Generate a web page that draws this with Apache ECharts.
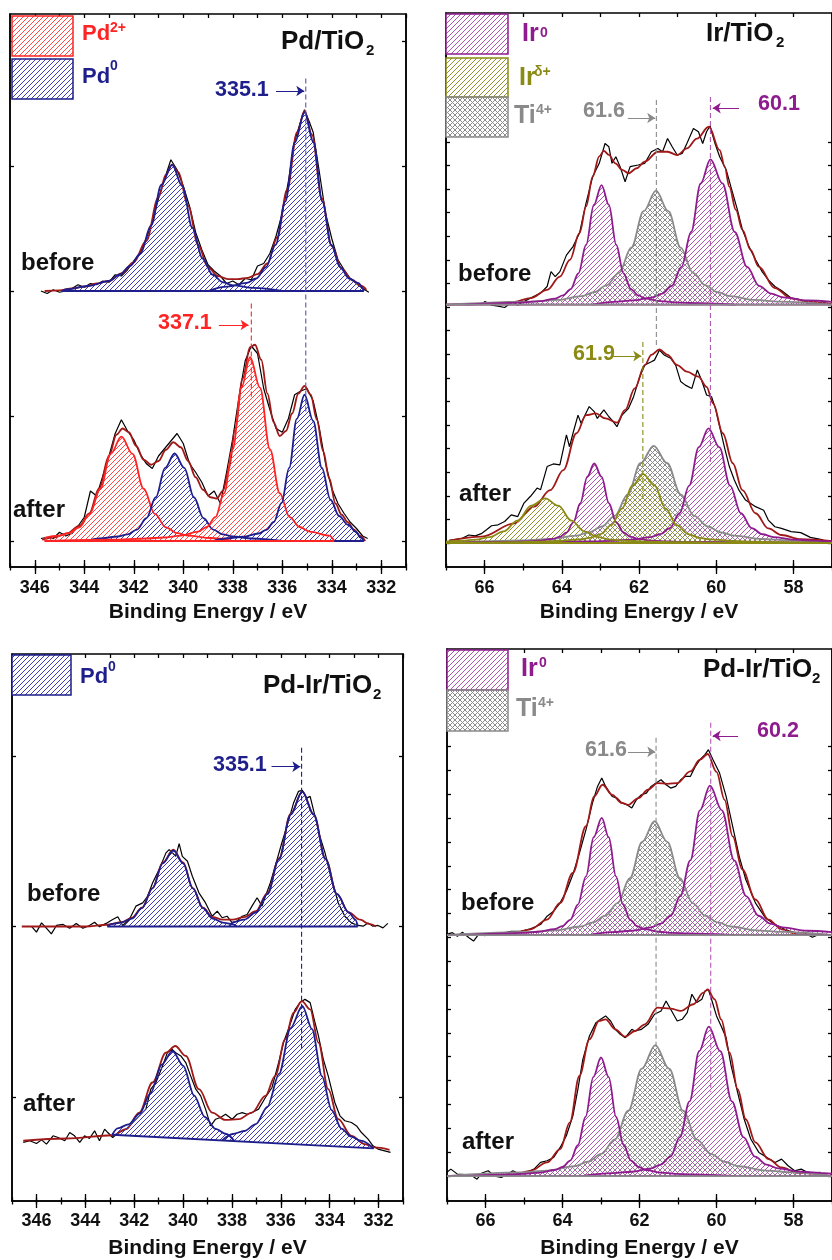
<!DOCTYPE html>
<html><head><meta charset="utf-8">
<script src="https://cdn.jsdelivr.net/npm/echarts@6/dist/echarts.min.js"></script>
<style>html,body{margin:0;padding:0;background:#fff}#c{width:832px;height:1260px}</style>
</head><body><div id="c"></div>
<script>
// ---------------- tick labels ----------------
const pdTickLabels = [332,334,336,338,340,342,344,346];
const irTickLabels = [58,60,62,64,66];
const pdTiYTicks = [0,1,2,3,4];
const irTiYTicks = [0,1,2,3,4,5,6,7,8,9,10,11,12,13,14,15,16,17];
const pdIrYTicks = [0,1,2];
const piYTicks = [0,1,2,3,4,5,6,7,8,9,10,11,12,13,14,15,16,17,18];

// ---------------- Panel 1: Pd/TiO2, Pd 3d ----------------
const pdTiBeforeBase = 2.0;
const pdTiBeforeRaw = [[345.75,2.00],[345.5,1.98],[345.25,2.01],[345.0,1.99],[344.75,2.00],[344.5,2.02],[344.25,2.05],[344.0,2.03],[343.75,2.06],[343.5,2.05],[343.25,2.08],[343.0,2.07],[342.75,2.13],[342.5,2.12],[342.25,2.17],[342.0,2.24],[341.75,2.30],[341.5,2.42],[341.25,2.55],[341.0,2.74],[340.75,2.90],[340.5,3.05],[340.25,2.97],[340.0,2.84],[339.75,2.68],[339.5,2.47],[339.25,2.33],[339.0,2.21],[338.75,2.16],[338.5,2.12],[338.25,2.06],[338.0,2.08],[337.75,2.05],[337.5,2.10],[337.25,2.09],[337.0,2.20],[336.75,2.22],[336.5,2.30],[336.25,2.44],[336.0,2.62],[335.75,2.88],[335.5,3.20],[335.25,3.36],[335.1,3.45],[334.9,3.35],[334.75,3.27],[334.5,2.95],[334.25,2.62],[334.0,2.42],[333.75,2.25],[333.5,2.17],[333.25,2.10],[333.0,2.06],[332.75,2.02],[332.5,1.99]];
const pdTiBeforeFit = [[345.6,2.0],[345.0,2.005],[344.5,2.02],[344.0,2.035],[343.5,2.06],[343.0,2.08],[342.5,2.14],[342.0,2.23],[341.5,2.40],[341.0,2.75],[340.7,2.93],[340.45,3.01],[340.2,2.95],[339.8,2.68],[339.4,2.37],[339.0,2.19],[338.6,2.12],[338.2,2.095],[337.8,2.095],[337.4,2.105],[337.0,2.135],[336.6,2.22],[336.2,2.43],[335.8,2.81],[335.4,3.27],[335.1,3.44],[334.8,3.25],[334.4,2.74],[334.0,2.36],[333.6,2.18],[333.2,2.09],[332.8,2.04],[332.6,2.01]];
const pdTiBeforePd0_32 = [[344.9,2.0],[344.7,2.015],[343.85,2.04],[343.0,2.08],[342.58,2.13],[342.15,2.20],[341.73,2.30],[341.3,2.525],[340.88,2.85],[340.45,3.01],[340.04,2.84],[339.63,2.505],[339.22,2.26],[338.81,2.13],[338.4,2.07],[337.99,2.045],[337.17,2.025],[336.0,2.0]];
const pdTiBeforePd0_52 = [[339.0,2.0],[338.22,2.035],[337.44,2.065],[337.05,2.10],[336.66,2.19],[336.27,2.37],[335.88,2.715],[335.49,3.19],[335.1,3.43],[334.74,3.19],[334.38,2.715],[334.02,2.37],[333.66,2.19],[333.30,2.10],[332.94,2.065],[332.7,2.0]];
const pdTiBeforeBaseLine = [[344.9,2.0],[332.7,2.0]];

const pdTiAfterBase = 0;
const pdTiAfterRaw = [[345.75,.02],[345.5,.03],[345.25,.02],[345.0,.07],[344.75,.04],[344.5,.06],[344.25,.12],[344.0,.19],[343.75,.40],[343.5,.36],[343.25,.52],[343.0,.68],[342.75,.86],[342.5,.97],[342.25,.88],[342.0,.81],[341.75,.70],[341.5,.62],[341.25,.58],[341.0,.68],[340.75,.74],[340.5,.80],[340.25,.86],[340.0,.78],[339.75,.62],[339.5,.55],[339.25,.47],[339.0,.36],[338.75,.40],[338.5,.30],[338.25,.55],[338.0,.82],[337.75,1.15],[337.5,1.44],[337.25,1.56],[337.0,1.50],[336.75,1.22],[336.5,1.05],[336.25,.90],[336.0,.87],[335.75,.98],[335.5,1.17],[335.25,1.20],[335.0,1.22],[334.75,1.12],[334.5,.90],[334.25,.62],[334.0,.42],[333.75,.30],[333.5,.22],[333.25,.15],[333.0,.10],[332.75,.04],[332.55,.02]];
const pdTiAfterFit = [[345.7,.01],[345.2,.03],[344.7,.06],[344.2,.12],[343.8,.22],[343.4,.42],[343.0,.68],[342.7,.85],[342.45,.90],[342.2,.87],[341.9,.76],[341.6,.65],[341.3,.61],[341.0,.64],[340.7,.73],[340.4,.79],[340.1,.75],[339.8,.64],[339.5,.51],[339.2,.41],[338.9,.35],[338.65,.34],[338.4,.40],[338.15,.58],[337.9,.90],[337.6,1.30],[337.3,1.55],[337.1,1.57],[336.85,1.45],[336.6,1.18],[336.35,.95],[336.1,.84],[335.85,.88],[335.6,1.02],[335.35,1.18],[335.1,1.24],[334.85,1.17],[334.6,.97],[334.35,.72],[334.1,.50],[333.85,.30],[333.6,.21],[333.35,.15],[333.1,.09],[332.85,.04],[332.65,0]];
const pdTiAfterPd2_32 = [[345.6,.025],[345.05,.043],[344.63,.063],[344.2,.109],[343.78,.217],[343.35,.418],[342.93,.697],[342.5,.835],[342.05,.697],[341.6,.418],[341.15,.217],[340.7,.109],[340.25,.063],[339.8,.043],[338.9,.024],[338.0,0]];
const pdTiAfterPd2_52 = [[345.6,0],[342.9,.011],[341.5,.02],[340.8,.028],[340.1,.043],[339.4,.075],[339.05,.112],[338.7,.191],[338.35,.382],[338.0,.735],[337.65,1.227],[337.3,1.47],[336.9,1.227],[336.5,.735],[336.1,.382],[335.7,.191],[335.3,.112],[334.9,.075],[334.1,.043],[333.9,0]];
const pdTiAfterPd0_32 = [[343.9,0],[343.39,.020],[342.63,.036],[342.25,.053],[341.87,.091],[341.49,.182],[341.11,.35],[340.73,.585],[340.35,.70],[339.96,.585],[339.57,.35],[339.18,.182],[338.79,.091],[338.4,.053],[338.01,.036],[337.23,.020],[336.0,0]];
const pdTiAfterPd0_52 = [[338.8,0],[338.2,.022],[337.58,.034],[336.96,.060],[336.65,.089],[336.34,.152],[336.03,.304],[335.72,.585],[335.41,.977],[335.1,1.17],[334.75,.96],[334.4,.585],[334.05,.33],[333.7,.2],[333.35,.13],[333.0,.07],[332.85,.03],[332.7,0]];
const pdTiAfterRedBase = [[345.6,0],[333.9,0]];
const pdTiAfterBlueBase = [[343.9,0],[332.7,0]];
const pdTiPd0Guide = [[335.05,3.70],[335.05,1.02]];
const pdTiPd2Guide = [[337.25,1.90],[337.25,1.15]];
const pdTiPd0Arrow = [[336.25,3.6],[335.11,3.6]];
const pdTiPd2Arrow = [[338.56,1.728],[337.36,1.728]];

// ---------------- Panel 2: Ir/TiO2, Ir 4f ----------------
const irTiBeforeBase = 10.1;
const irTiBeforeRaw = [[66.11,10.08],[65.99,10.23],[65.82,10.08],[65.65,10.04],[65.48,9.98],[65.27,10.23],[65.15,10.08],[64.98,10.23],[64.81,10.38],[64.55,10.59],[64.38,10.87],[64.28,11.5],[64.17,11.29],[64.05,11.5],[63.88,12.2],[63.71,12.56],[63.54,13.14],[63.37,14.41],[63.2,15.53],[63.03,16.09],[62.88,16.93],[62.78,16.79],[62.7,16.09],[62.6,16.37],[62.49,15.95],[62.36,15.31],[62.23,15.95],[62.02,16.02],[61.85,16.09],[61.68,16.58],[61.51,16.72],[61.39,16.58],[61.26,17.14],[61.14,16.79],[61.01,16.44],[60.88,16.51],[60.76,16.93],[60.59,17.57],[60.46,17.43],[60.35,16.93],[60.25,17.43],[60.16,17.67],[60.03,16.93],[59.91,16.37],[59.74,15.81],[59.62,15.1],[59.45,14.12],[59.32,13.27],[59.15,12.56],[58.98,12.0],[58.81,11.5],[58.65,11.15],[58.48,10.87],[58.31,10.7],[58.06,10.38],[57.81,10.3],[57.64,10.16],[57.38,10.16],[57.23,10.23]];
const irTiBeforeFit = [[67.0,10.1],[66.07,10.12],[65.23,10.22],[64.81,10.38],[64.38,10.73],[64.05,11.29],[63.79,12.0],[63.54,13.14],[63.37,14.27],[63.2,15.53],[63.03,16.38],[62.91,16.62],[62.78,16.45],[62.61,16.09],[62.44,15.81],[62.27,15.67],[62.06,15.88],[61.85,16.16],[61.51,16.58],[61.26,16.58],[61.01,16.44],[60.76,16.72],[60.5,17.14],[60.19,17.64],[59.91,16.65],[59.78,15.95],[59.66,15.1],[59.49,14.12],[59.32,13.27],[59.11,12.42],[58.9,11.71],[58.48,10.8],[58.06,10.37],[57.64,10.24],[57.0,10.13]];
const irTiBeforeIr0_72 = [[63.2,10.1],[62.65,10.22],[62.15,10.28],[61.65,10.41],[61.4,10.57],[61.15,10.9],[60.9,11.7],[60.65,13.18],[60.4,15.24],[60.15,16.26],[59.84,15.24],[59.52,13.18],[59.2,11.7],[58.89,10.9],[58.58,10.57],[58.26,10.41],[57.63,10.28],[57.0,10.22]];
const irTiBeforeIr0_52 = [[66.5,10.1],[65.37,10.17],[64.97,10.2],[64.57,10.25],[64.17,10.36],[63.97,10.49],[63.77,10.76],[63.57,11.42],[63.37,12.64],[63.17,14.33],[62.97,15.17],[62.78,14.33],[62.59,12.64],[62.4,11.42],[62.21,10.76],[62.02,10.49],[61.83,10.36],[61.45,10.25],[61.07,10.2],[60.69,10.17],[59.5,10.1]];
const irTiBeforeTi = [[67.0,10.1],[64.76,10.23],[64.12,10.3],[63.48,10.46],[63.16,10.63],[62.84,10.92],[62.52,11.45],[62.2,12.52],[61.88,14.06],[61.56,14.93],[61.24,14.06],[60.92,12.52],[60.6,11.45],[60.28,10.92],[59.96,10.63],[59.64,10.46],[59.0,10.3],[58.36,10.23],[57.0,10.1]];
const irTiBeforeBaseLine = [[67.0,10.1],[57.0,10.1]];

const irTiAfterBase = 0;
const irTiAfterRaw = [[66.92,.10],[66.58,.20],[66.41,.34],[66.24,.30],[66.07,.41],[65.95,.56],[65.82,.73],[65.65,.77],[65.48,.91],[65.31,1.19],[65.14,1.12],[64.98,1.69],[64.81,1.98],[64.64,2.33],[64.55,2.26],[64.38,3.24],[64.22,3.35],[64.05,3.31],[63.88,4.58],[63.8,4.08],[63.71,4.65],[63.58,5.42],[63.5,5.07],[63.29,5.78],[63.16,5.57],[63.08,5.28],[62.91,5.64],[62.78,5.35],[62.7,5.21],[62.57,4.93],[62.44,5.42],[62.27,5.71],[62.14,6.2],[61.98,7.05],[61.85,7.54],[61.68,7.68],[61.6,7.75],[61.47,8.18],[61.35,7.97],[61.18,7.83],[61.05,7.54],[60.92,6.84],[60.8,6.69],[60.63,6.55],[60.49,7.33],[60.38,6.91],[60.25,6.27],[60.12,6.2],[60.01,5.64],[59.91,4.93],[59.78,4.01],[59.66,3.24],[59.53,2.67],[59.41,2.24],[59.24,1.82],[58.98,1.54],[58.77,1.39],[58.65,.97],[58.48,.69],[58.31,.62],[58.06,.48],[57.81,.44],[57.56,.24],[57.23,.13]];
const irTiAfterFit = [[66.92,.10],[66.07,.27],[65.23,.83],[64.72,1.54],[64.3,2.24],[63.96,3.09],[63.62,4.65],[63.37,5.42],[63.12,5.49],[62.87,5.28],[62.57,5.1],[62.36,5.64],[62.11,6.55],[61.85,7.54],[61.68,7.97],[61.47,8.2],[61.26,7.97],[61.01,7.54],[60.76,7.26],[60.46,7.05],[60.25,6.62],[60.08,5.92],[59.83,4.65],[59.57,3.38],[59.32,2.24],[58.98,1.26],[58.65,.62],[58.31,.34],[57.81,.16],[57.0,.08]];
const irTiAfterIrd_52 = [[67.0,.06],[66.59,.096],[66.23,.14],[65.87,.25],[65.51,.49],[65.15,.945],[64.79,1.58],[64.43,1.89],[64.09,1.58],[63.75,.945],[63.41,.49],[63.07,.25],[62.73,.14],[62.39,.096],[61.71,.055],[61.03,.036],[60.35,.026],[57.0,0]];
const irTiAfterIrd_72 = [[67.0,0],[65.19,.039],[64.64,.055],[64.09,.085],[63.54,.15],[63.27,.22],[62.99,.38],[62.72,.76],[62.44,1.46],[62.17,2.44],[61.89,2.92],[61.6,2.44],[61.31,1.46],[61.02,.76],[60.73,.38],[60.44,.22],[60.15,.15],[59.57,.085],[58.99,.055],[58.41,.039],[57.0,0]];
const irTiAfterIr0_52 = [[67.0,0],[65.32,.045],[64.96,.064],[64.6,.098],[64.24,.172],[64.06,.256],[63.88,.438],[63.7,.876],[63.52,1.685],[63.34,2.81],[63.16,3.37],[62.97,2.81],[62.78,1.685],[62.59,.876],[62.4,.438],[62.21,.256],[62.02,.172],[61.64,.098],[61.26,.064],[60.88,.045],[57.0,0]];
const irTiAfterTi = [[67.0,0],[64.97,.11],[64.3,.17],[63.63,.31],[63.3,.45],[62.96,.70],[62.63,1.15],[62.29,2.06],[61.96,3.38],[61.62,4.12],[61.27,3.38],[60.92,2.06],[60.57,1.15],[60.22,.70],[59.87,.45],[59.52,.31],[58.82,.17],[58.12,.11],[57.0,0]];
const irTiAfterIr0_72 = [[67.0,0],[63.2,.066],[62.7,.092],[62.2,.14],[61.7,.25],[61.45,.37],[61.2,.63],[60.95,1.26],[60.7,2.43],[60.45,4.06],[60.2,4.86],[59.92,4.06],[59.64,2.43],[59.36,1.26],[59.08,.63],[58.8,.37],[58.52,.25],[57.96,.14],[57.4,.092],[57.0,.07]];
const irTiAfterBaseLine = [[67.0,0],[57.0,0]];
const irTiTiGuide = [[61.55,18.77],[61.55,8.26]];
const irTiIr0Guide = [[60.15,18.9],[60.15,3.3]];
const irTiIrdGuide = [[61.9,8.52],[61.9,1.74]];
const irTiTiArrow = [[62.29,18.01],[61.58,18.01]];
const irTiIr0Arrow = [[59.41,18.43],[60.09,18.43]];
const irTiIrdArrow = [[62.7,7.92],[61.94,7.92]];

// ---------------- Panel 3: Pd-Ir/TiO2, Pd 3d ----------------
const pdIrBeforeBase = 1.0;
const pdIrBeforeRaw = [[346.2,1.0],[346.0,.967],[345.79,1.021],[345.52,.979],[345.39,.957],[345.18,1.006],[344.91,1.012],[344.64,.99],[344.37,1.018],[344.1,.99],[343.83,1.006],[343.62,1.025],[343.42,.998],[343.15,1.018],[342.88,1.041],[342.67,1.057],[342.47,1.006],[342.2,1.041],[341.93,1.119],[341.65,1.138],[341.45,1.177],[341.25,1.255],[340.98,1.333],[340.7,1.431],[340.57,1.45],[340.43,1.431],[340.3,1.411],[340.16,1.485],[340.03,1.411],[339.82,1.382],[339.62,1.294],[339.35,1.197],[339.08,1.138],[338.81,1.06],[338.6,1.09],[338.4,1.051],[338.2,1.06],[337.99,1.021],[337.79,1.031],[337.58,1.06],[337.38,1.07],[337.18,1.119],[336.97,1.168],[336.77,1.119],[336.63,1.177],[336.43,1.255],[336.23,1.353],[335.96,1.489],[335.69,1.616],[335.48,1.723],[335.28,1.791],[335.12,1.797],[334.94,1.752],[334.8,1.762],[334.6,1.645],[334.4,1.528],[334.19,1.431],[333.92,1.275],[333.65,1.138],[333.38,1.06],[333.11,1.021],[332.84,1.006],[332.63,1.002],[332.43,1.021],[332.23,1.002],[332.02,1.006],[331.82,.992],[331.62,1.018]];
const pdIrBeforeFit = [[346.6,1.0],[344.0,1.0],[343.1,1.01],[342.5,1.025],[342.1,1.05],[341.68,1.11],[341.25,1.225],[340.83,1.375],[340.4,1.45],[340.0,1.375],[339.6,1.225],[339.19,1.11],[338.78,1.055],[338.38,1.04],[337.97,1.04],[337.5,1.055],[337.02,1.09],[336.55,1.195],[336.07,1.40],[335.6,1.66],[335.12,1.79],[334.65,1.655],[334.17,1.395],[333.7,1.19],[333.22,1.082],[332.75,1.04],[332.4,1.015],[332.1,1.0]];
const pdIrBeforePd0_32 = [[343.1,1.0],[342.95,1.014],[342.53,1.023],[342.1,1.046],[341.68,1.107],[341.25,1.223],[340.83,1.37],[340.4,1.446],[340.0,1.37],[339.6,1.223],[339.19,1.107],[338.78,1.046],[338.38,1.023],[337.97,1.014],[337.8,1.0]];
const pdIrBeforePd0_52 = [[338.1,1.0],[337.97,1.024],[337.5,1.04],[337.02,1.082],[336.55,1.189],[336.07,1.395],[335.6,1.655],[335.12,1.79],[334.65,1.655],[334.17,1.395],[333.7,1.189],[333.22,1.082],[332.95,1.04],[332.85,1.0]];
const pdIrBeforeBaseLine = [[343.1,1.0],[332.85,1.0]];

const pdIrAfterRaw = [[346.54,-.265],[346.27,-.255],[346.0,-.271],[345.79,-.25],[345.59,-.275],[345.32,-.226],[345.11,-.236],[344.84,-.255],[344.64,-.207],[344.44,-.226],[344.23,-.265],[344.03,-.226],[343.83,-.242],[343.62,-.197],[343.42,-.255],[343.21,-.187],[343.08,-.207],[342.88,-.236],[342.6,-.203],[342.33,-.187],[342.06,-.148],[341.79,-.109],[341.52,-.07],[341.32,.047],[341.11,.086],[340.84,.183],[340.64,.261],[340.46,.281],[340.3,.261],[340.09,.242],[339.89,.203],[339.69,.125],[339.48,.047],[339.28,.008],[339.08,-.07],[338.87,-.168],[338.67,-.129],[338.47,-.119],[338.26,-.1],[337.99,-.129],[337.79,-.1],[337.58,-.09],[337.38,-.1],[337.18,-.09],[336.91,-.07],[336.63,-.002],[336.36,.057],[336.09,.203],[335.89,.32],[335.69,.398],[335.41,.515],[335.21,.554],[335.01,.573],[334.8,.554],[334.6,.437],[334.46,.359],[334.26,.222],[334.06,.125],[333.79,-.031],[333.58,-.109],[333.38,-.138],[333.11,-.148],[332.9,-.168],[332.7,-.207],[332.43,-.246],[332.23,-.285],[332.02,-.304],[331.75,-.314],[331.51,-.323]];
const pdIrAfterFit = [[346.54,-.255],[344.78,-.242],[342.88,-.223],[342.33,-.187],[341.79,-.09],[341.25,.086],[340.7,.261],[340.32,.30],[339.89,.242],[339.35,.047],[338.81,-.09],[338.27,-.133],[337.72,-.129],[337.18,-.09],[336.63,.008],[336.23,.125],[335.82,.339],[335.48,.495],[335.14,.563],[334.8,.515],[334.46,.32],[334.06,.047],[333.65,-.129],[333.11,-.226],[332.57,-.275],[332.16,-.294],[331.55,-.308]];
// sloped background under each component, and each component's height above it
const pdIrAfterBg32 = [[342.9,-.22],[342.68,-.2215],[342.23,-.2248],[341.78,-.2282],[341.33,-.2316],[340.88,-.2349],[340.43,-.2383],[339.99,-.2416],[339.55,-.2448],[339.11,-.2481],[338.67,-.2514],[338.23,-.2547],[337.9,-.2572]];
const pdIrAfterPd0_32 = [[342.9,0],[342.68,.039],[342.23,.066],[341.78,.132],[341.33,.255],[340.88,.425],[340.43,.509],[339.99,.425],[339.55,.255],[339.11,.132],[338.67,.066],[338.23,.039],[337.9,0]];
const pdIrAfterBg52 = [[338.4,-.2534],[337.97,-.2566],[337.5,-.2601],[337.02,-.2637],[336.55,-.2672],[336.07,-.2708],[335.6,-.2743],[335.12,-.2779],[334.72,-.2809],[334.32,-.2839],[333.92,-.2868],[333.52,-.2898],[333.12,-.2928],[332.72,-.2958],[332.2,-.2997]];
const pdIrAfterPd0_52 = [[338.4,0],[337.97,.041],[337.5,.062],[337.02,.106],[336.55,.211],[336.07,.407],[335.6,.679],[335.12,.813],[334.72,.679],[334.32,.407],[333.92,.211],[333.52,.106],[333.12,.062],[332.72,.041],[332.2,0]];
const pdIrAfterBgLine = [[342.9,-.22],[332.2,-.2997]];
const pdIrPd0Guide = [[335.15,2.047],[335.15,0.281]];
const pdIrPd0Arrow = [[336.38,1.936],[335.2,1.936]];

// ---------------- Panel 4: Pd-Ir/TiO2, Ir 4f ----------------
const piBeforeBase = 10.1;
const piBeforeRaw = [[67.01,10.13],[66.86,10.2],[66.73,10.05],[66.6,10.22],[66.43,9.99],[66.31,9.85],[66.18,10.13],[66.01,10.08],[65.84,10.2],[65.59,10.17],[65.33,10.26],[65.08,10.26],[64.83,10.36],[64.57,10.54],[64.4,10.89],[64.23,11.1],[64.06,11.45],[63.9,11.94],[63.73,12.64],[63.56,13.54],[63.39,14.52],[63.22,15.64],[63.09,16.33],[62.98,16.68],[62.88,16.33],[62.71,15.91],[62.58,15.84],[62.46,15.64],[62.33,15.56],[62.2,15.43],[62.08,15.77],[61.95,15.98],[61.82,16.05],[61.7,16.33],[61.57,16.47],[61.44,16.61],[61.31,16.4],[61.19,16.26],[61.06,16.33],[60.93,16.61],[60.81,16.75],[60.68,16.75],[60.55,17.17],[60.43,17.45],[60.3,17.66],[60.21,17.87],[60.09,17.45],[59.92,16.89],[59.75,15.91],[59.58,14.66],[59.41,13.4],[59.24,12.43],[58.99,11.45],[58.73,10.82],[58.48,10.54],[58.23,10.34],[57.97,10.2],[57.72,10.2],[57.51,10.01],[57.34,10.13],[57.23,10.08]];
const piBeforeFit = [[67.0,10.1],[65.93,10.1],[65.25,10.2],[64.83,10.34],[64.4,10.75],[64.06,11.45],[63.73,12.71],[63.39,14.66],[63.18,15.91],[62.96,16.4],[62.71,15.98],[62.46,15.64],[62.29,15.56],[62.03,15.84],[61.78,16.19],[61.53,16.47],[61.27,16.44],[61.02,16.47],[60.68,16.96],[60.43,17.45],[60.23,17.69],[60.0,16.94],[59.79,15.77],[59.58,14.24],[59.33,12.85],[58.99,11.59],[58.65,10.75],[58.31,10.34],[57.89,10.13],[57.0,10.1]];
const piBeforeIr0_72 = [[63.3,10.1],[62.72,10.22],[62.21,10.28],[61.7,10.42],[61.45,10.58],[61.19,10.91],[60.94,11.73],[60.68,13.23],[60.43,15.33],[60.17,16.36],[59.86,15.33],[59.54,13.23],[59.23,11.73],[58.91,10.91],[58.6,10.58],[58.28,10.42],[57.65,10.28],[57.0,10.22]];
const piBeforeIr0_52 = [[66.5,10.1],[65.44,10.17],[65.03,10.19],[64.62,10.24],[64.21,10.35],[64.01,10.47],[63.8,10.74],[63.6,11.38],[63.39,12.56],[63.19,14.2],[62.98,15.01],[62.8,14.2],[62.61,12.56],[62.43,11.38],[62.24,10.74],[62.06,10.47],[61.87,10.35],[61.5,10.24],[61.13,10.19],[60.76,10.17],[59.5,10.1]];
const piBeforeTi = [[67.0,10.1],[64.81,10.23],[64.17,10.3],[63.53,10.46],[63.21,10.63],[62.89,10.91],[62.57,11.44],[62.25,12.49],[61.93,14.01],[61.61,14.87],[61.28,14.01],[60.95,12.49],[60.62,11.44],[60.29,10.91],[59.96,10.63],[59.63,10.46],[58.97,10.3],[58.31,10.23],[57.0,10.1]];
const piBeforeBaseLine = [[67.0,10.1],[57.0,10.1]];

const piAfterBase = 0;
const piAfterRaw = [[67.01,.15],[66.9,.29],[66.73,.08],[66.52,.06],[66.35,.01],[66.22,-.13],[66.09,.13],[65.93,.22],[65.76,-.01],[65.59,-.06],[65.42,.08],[65.29,.22],[65.12,.08],[64.91,.18],[64.74,.29],[64.57,.57],[64.4,.64],[64.23,.78],[64.06,1.2],[63.9,1.69],[63.73,2.52],[63.6,3.64],[63.47,4.9],[63.3,5.87],[63.13,6.43],[63.01,6.57],[62.88,6.71],[62.75,6.5],[62.63,6.15],[62.5,5.94],[62.37,5.8],[62.2,6.15],[62.12,6.08],[61.95,6.15],[61.78,6.36],[61.61,6.78],[61.44,6.92],[61.31,7.34],[61.19,6.99],[61.02,6.5],[60.89,6.57],[60.76,6.85],[60.64,7.62],[60.51,7.27],[60.38,7.41],[60.3,7.75],[60.21,7.82],[60.13,7.41],[60.0,6.71],[59.88,6.29],[59.75,5.8],[59.62,4.62],[59.45,3.5],[59.28,2.38],[59.11,1.55],[58.9,.99],[58.69,.78],[58.48,.57],[58.31,.71],[58.14,.43],[57.97,.22],[57.8,.29],[57.63,.15],[57.47,.13],[57.3,.15]];
const piAfterFit = [[67.0,0.0],[66.0,.02],[65.25,.06],[64.83,.22],[64.4,.57],[64.06,1.13],[63.81,2.25],[63.56,4.2],[63.3,5.73],[63.05,6.5],[62.88,6.57],[62.63,6.15],[62.37,5.84],[62.12,6.08],[61.86,6.36],[61.53,7.06],[61.19,7.02],[60.93,6.92],[60.6,7.2],[60.34,7.69],[60.23,7.82],[60.05,7.41],[59.88,6.57],[59.66,5.17],[59.45,3.64],[59.24,2.38],[58.99,1.41],[58.65,.71],[58.31,.36],[57.89,.13],[57.0,0]];
const piAfterIr0_72 = [[63.5,0],[62.7,.12],[62.2,.18],[61.7,.32],[61.45,.48],[61.2,.81],[60.95,1.63],[60.7,3.13],[60.45,5.23],[60.2,6.26],[59.9,5.23],[59.6,3.13],[59.3,1.63],[59.0,.81],[58.7,.48],[58.4,.32],[57.8,.18],[57.2,.12],[57.0,.1]];
const piAfterIr0_52 = [[66.5,0],[65.4,.067],[65.0,.094],[64.6,.144],[64.2,.253],[64.0,.378],[63.8,.646],[63.6,1.29],[63.4,2.485],[63.2,4.15],[63.0,4.97],[62.8,4.15],[62.61,2.485],[62.41,1.29],[62.22,.646],[62.02,.378],[61.83,.253],[61.44,.144],[61.05,.094],[60.66,.067],[59.5,0]];
const piAfterTi = [[67.0,0],[65.09,.15],[64.39,.23],[63.69,.41],[63.34,.6],[62.99,.93],[62.64,1.54],[62.29,2.745],[61.94,4.5],[61.59,5.49],[61.23,4.5],[60.87,2.745],[60.51,1.54],[60.15,.93],[59.79,.6],[59.43,.41],[58.71,.23],[57.99,.15],[57.0,0]];
const piAfterBaseLine = [[67.0,0],[57.0,0]];
const piTiGuide = [[61.57,18.37],[61.57,4.48]];
const piIr0Guide = [[60.15,19.0],[60.15,3.51]];
const piTiArrow = [[62.3,17.78],[61.59,17.78]];
const piIr0Arrow = [[59.44,18.45],[60.1,18.45]];

// ---------------- styling ----------------
const FONT = '"Liberation Sans", Arial, Helvetica, sans-serif';
const C = {navy:'#1e1e8c', red:'#ff2424', purple:'#8e1c8e', olive:'#8a8a14', gray:'#8a8a8a', env:'#a01818', black:'#111'};

function hatch(color, s, cross) {
  const c = document.createElement('canvas');
  c.width = s; c.height = s;
  const g = c.getContext('2d');
  g.fillStyle = color;
  for (let k = 0; k < s; k++) {
    g.fillRect(s - 1 - k, k, 1, 1);
    if (cross) g.fillRect(k, k, 1, 1);
  }
  return {image: c, repeat: 'repeat'};
}
const P = {
  pd0: hatch('rgb(60,60,180)', 5, false),
  pd2: hatch('rgb(255,70,70)', 5, false),
  ir0: hatch('rgb(175,85,175)', 5, false),
  ird: hatch('rgb(145,145,45)', 5, false),
  ti: hatch('rgb(140,140,140)', 5, true)
};

const panels = [
  {left:10, top:14, width:396, height:553, xmin:331, xmax:347, ymin:-0.208, ymax:4.216, xl:pdTickLabels, yt:pdTiYTicks, lm:12, ng:35},
  {left:446, top:13, width:395, height:554, xmin:57, xmax:67, ymin:-1.017, ymax:22.46, xl:irTickLabels, yt:irTiYTicks, lm:12, ng:35},
  {left:12, top:654, width:391, height:548, xmin:331, xmax:347, ymin:-0.608, ymax:2.596, xl:pdTickLabels, yt:pdIrYTicks, lm:11, ng:37},
  {left:447, top:649, width:394, height:553, xmin:57, xmax:67, ymin:-1.046, ymax:22.09, xl:irTickLabels, yt:piYTicks, lm:11, ng:37}
];

const grids = [], xAxes = [], yAxes = [];
const tickStyle = {color:'#000', width:1.3};
panels.forEach((p, i) => {
  grids.push({left:p.left, top:p.top, width:p.width, height:p.height, show:true, borderColor:'#000', borderWidth:1.5, backgroundColor:'transparent'});
  const base = {type:'value', gridIndex:i, min:p.xmin, max:p.xmax, inverse:true, splitLine:{show:false}};
  xAxes.push(Object.assign({}, base, {position:'bottom', interval:1,
    axisLine:{show:true, onZero:false, lineStyle:{color:'#000', width:1.5}},
    axisTick:{show:true, inside:false, length:3.5, lineStyle:tickStyle},
    axisLabel:{show:true, customValues:p.xl, margin:p.lm, fontSize:18, fontWeight:'bold', fontFamily:FONT, color:C.black},
    name:'Binding Energy / eV', nameLocation:'middle', nameGap:p.ng,
    nameTextStyle:{fontSize:21, fontWeight:'bold', fontFamily:FONT, color:C.black}}));
  xAxes.push(Object.assign({}, base, {position:'bottom', interval:1,
    axisLine:{show:false, onZero:false}, axisLabel:{show:false},
    axisTick:{show:true, inside:true, length:3.5, lineStyle:tickStyle}}));
  xAxes.push(Object.assign({}, base, {position:'bottom', interval:1,
    axisLine:{show:false, onZero:false}, axisLabel:{show:false},
    axisTick:{show:true, inside:false, length:7, customValues:p.xl, lineStyle:tickStyle}}));
  xAxes.push(Object.assign({}, base, {position:'bottom', interval:1,
    axisLine:{show:false, onZero:false}, axisLabel:{show:false},
    axisTick:{show:true, inside:true, length:7, customValues:p.xl, lineStyle:tickStyle}}));
  xAxes.push(Object.assign({}, base, {position:'top', interval:1,
    axisLine:{show:false, onZero:false}, axisLabel:{show:false},
    axisTick:{show:true, inside:true, length:4, lineStyle:tickStyle}}));
  ['left','right'].forEach(pos => {
    yAxes.push({type:'value', gridIndex:i, position:pos, min:p.ymin, max:p.ymax,
      axisLine:{show:true, onZero:false, lineStyle:{color:'#000', width:1.5}},
      axisTick:{show:true, inside:true, length:4, customValues:p.yt, lineStyle:tickStyle},
      axisLabel:{show:false}, splitLine:{show:false}});
  });
});

const series = [];
function ax(i) { return {xAxisIndex:i * 5, yAxisIndex:i * 2}; }
function raw(i, data) {
  series.push(Object.assign({type:'line', data, symbol:'none', smooth:false, z:2, silent:true,
    lineStyle:{color:'#000', width:1.2}}, ax(i)));
}
function fit(i, data) {
  series.push(Object.assign({type:'line', data, symbol:'none', smooth:0.35, smoothMonotone:'x', z:3, silent:true,
    lineStyle:{color:C.env, width:1.8}}, ax(i)));
}
function comp(i, data, color, pat, origin, z) {
  series.push(Object.assign({type:'line', data, symbol:'none', smooth:0.35, smoothMonotone:'x', z:z || 4, silent:true,
    lineStyle:{color, width:1.8}, areaStyle:{color:pat, origin, opacity:1}}, ax(i)));
}
function flat(i, data, color, z) {
  series.push(Object.assign({type:'line', data, symbol:'none', z:z || 4, silent:true,
    lineStyle:{color, width:1.8}}, ax(i)));
}
function guide(i, data, color) {
  series.push(Object.assign({type:'line', data, symbol:'none', z:6, silent:true,
    lineStyle:{color, width:1.1, type:[5,3]}}, ax(i)));
}
function arrow(i, data, color) {
  series.push(Object.assign({type:'lines', coordinateSystem:'cartesian2d', silent:true, z:7,
    symbol:['none','arrow'], symbolSize:[1,8],
    lineStyle:{color, width:1.2, opacity:1, curveness:0},
    data:[{coords:data}]}, ax(i)));
}
// component sitting on a sloped background: fill between curve and background
function slopedComp(i, bg, h, color, pat) {
  const top = bg.map((p, k) => [p[0], p[1] + h[k][1]]);
  series.push(Object.assign({type:'custom', silent:true, z:4, clip:true, data:[bg[0]],
    renderItem: (params, api) => {
      const pts = top.map(p => api.coord(p)).concat(bg.slice().reverse().map(p => api.coord(p)));
      return {type:'polygon', shape:{points:pts}, style:{fill:pat, stroke:null}};
    }}, ax(i)));
  series.push(Object.assign({type:'line', data:top, symbol:'none', smooth:0.3, smoothMonotone:'x', z:5, silent:true,
    lineStyle:{color, width:1.8}}, ax(i)));
}

// Panel 1
raw(0, pdTiBeforeRaw); fit(0, pdTiBeforeFit);
comp(0, pdTiBeforePd0_32, C.navy, P.pd0, pdTiBeforeBase);
comp(0, pdTiBeforePd0_52, C.navy, P.pd0, pdTiBeforeBase);
flat(0, pdTiBeforeBaseLine, C.navy);
raw(0, pdTiAfterRaw); fit(0, pdTiAfterFit);
comp(0, pdTiAfterPd2_32, C.red, P.pd2, pdTiAfterBase);
comp(0, pdTiAfterPd0_32, C.navy, P.pd0, pdTiAfterBase);
comp(0, pdTiAfterPd2_52, C.red, P.pd2, pdTiAfterBase);
comp(0, pdTiAfterPd0_52, C.navy, P.pd0, pdTiAfterBase);
flat(0, pdTiAfterBlueBase, C.navy); flat(0, pdTiAfterRedBase, C.red);
guide(0, pdTiPd0Guide, '#5656b0'); guide(0, pdTiPd2Guide, C.red);
arrow(0, pdTiPd0Arrow, C.navy); arrow(0, pdTiPd2Arrow, C.red);

// Panel 2
raw(1, irTiBeforeRaw); fit(1, irTiBeforeFit);
comp(1, irTiBeforeTi, C.gray, P.ti, irTiBeforeBase);
comp(1, irTiBeforeIr0_52, C.purple, P.ir0, irTiBeforeBase);
comp(1, irTiBeforeIr0_72, C.purple, P.ir0, irTiBeforeBase);
flat(1, irTiBeforeBaseLine, C.purple); flat(1, irTiBeforeBaseLine, C.gray);
raw(1, irTiAfterRaw); fit(1, irTiAfterFit);
comp(1, irTiAfterTi, C.gray, P.ti, irTiAfterBase);
comp(1, irTiAfterIr0_52, C.purple, P.ir0, irTiAfterBase);
comp(1, irTiAfterIr0_72, C.purple, P.ir0, irTiAfterBase);
comp(1, irTiAfterIrd_52, C.olive, P.ird, irTiAfterBase);
comp(1, irTiAfterIrd_72, C.olive, P.ird, irTiAfterBase);
flat(1, irTiAfterBaseLine, C.olive, 5);
guide(1, irTiTiGuide, C.gray); guide(1, irTiIr0Guide, '#b058b0'); guide(1, irTiIrdGuide, C.olive);
arrow(1, irTiTiArrow, C.gray); arrow(1, irTiIr0Arrow, C.purple); arrow(1, irTiIrdArrow, C.olive);

// Panel 3
raw(2, pdIrBeforeRaw); fit(2, pdIrBeforeFit);
comp(2, pdIrBeforePd0_32, C.navy, P.pd0, pdIrBeforeBase);
comp(2, pdIrBeforePd0_52, C.navy, P.pd0, pdIrBeforeBase);
flat(2, pdIrBeforeBaseLine, C.navy);
raw(2, pdIrAfterRaw); fit(2, pdIrAfterFit);
slopedComp(2, pdIrAfterBg32, pdIrAfterPd0_32, C.navy, P.pd0);
slopedComp(2, pdIrAfterBg52, pdIrAfterPd0_52, C.navy, P.pd0);
flat(2, pdIrAfterBgLine, C.navy, 5);
guide(2, pdIrPd0Guide, C.navy);
arrow(2, pdIrPd0Arrow, C.navy);

// Panel 4
raw(3, piBeforeRaw); fit(3, piBeforeFit);
comp(3, piBeforeTi, C.gray, P.ti, piBeforeBase);
comp(3, piBeforeIr0_52, C.purple, P.ir0, piBeforeBase);
comp(3, piBeforeIr0_72, C.purple, P.ir0, piBeforeBase);
flat(3, piBeforeBaseLine, C.purple); flat(3, piBeforeBaseLine, C.gray);
raw(3, piAfterRaw); fit(3, piAfterFit);
comp(3, piAfterTi, C.gray, P.ti, piAfterBase);
comp(3, piAfterIr0_52, C.purple, P.ir0, piAfterBase);
comp(3, piAfterIr0_72, C.purple, P.ir0, piAfterBase);
flat(3, piAfterBaseLine, C.purple); flat(3, piAfterBaseLine, C.gray);
guide(3, piTiGuide, C.gray); guide(3, piIr0Guide, '#b058b0');
arrow(3, piTiArrow, C.gray); arrow(3, piIr0Arrow, C.purple);

// ---------------- annotations (text + legend boxes) ----------------
const graphic = [];
function txt(x, baseline, fs, s, color) {
  graphic.push({type:'text', z:100, silent:true, style:{text:s, x:x, y:baseline - 0.35 * fs,
    fontSize:fs, fontWeight:'bold', fontFamily:FONT, fill:color, align:'left', verticalAlign:'middle'}});
}
function box(x, y, w, h, color, pat) {
  graphic.push({type:'rect', z:99, silent:true, shape:{x, y, width:w, height:h}, style:{fill:'#fff', stroke:null}});
  graphic.push({type:'rect', z:100, silent:true, shape:{x, y, width:w, height:h}, style:{fill:pat, stroke:color, lineWidth:1.5}});
}
// Panel 1
box(12, 16, 61, 40, C.red, P.pd2); box(12, 59, 61, 40, C.navy, P.pd0);
txt(82, 42, 22, 'Pd', C.red); txt(110, 33, 14, '2+', C.red);
txt(82, 85, 22, 'Pd', C.navy); txt(110, 71, 14, '0', C.navy);
txt(281, 51, 26, 'Pd/TiO', C.black); txt(366, 56, 15, '2', C.black);
txt(215, 98, 21.5, '335.1', C.navy);
txt(158, 331, 21.5, '337.1', C.red);
txt(21, 272, 24, 'before', C.black); txt(13, 519, 24, 'after', C.black);
// Panel 2
box(446, 14, 62, 40, C.purple, P.ir0); box(446, 58, 62, 39, C.olive, P.ird); box(446, 97, 62, 40, C.gray, P.ti);
txt(522, 43, 25, 'Ir', C.purple); txt(540, 38, 14, '0', C.purple);
txt(519, 87, 25, 'Ir', C.olive); txt(534, 77, 14, 'δ+', C.olive);
txt(514, 125, 25, 'Ti', C.gray); txt(536, 115, 14, '4+', C.gray);
txt(706, 43, 26, 'Ir/TiO', C.black); txt(776, 48, 15, '2', C.black);
txt(583, 119, 21.5, '61.6', C.gray);
txt(758, 112, 21.5, '60.1', C.purple);
txt(573, 362, 21.5, '61.9', C.olive);
txt(458, 283, 24, 'before', C.black); txt(459, 503, 24, 'after', C.black);
// Panel 3
box(12, 655, 59, 40, C.navy, P.pd0);
txt(80, 685, 22, 'Pd', C.navy); txt(108, 672, 14, '0', C.navy);
txt(263, 695, 26, 'Pd-Ir/TiO', C.black); txt(373, 700, 15, '2', C.black);
txt(213, 773, 21.5, '335.1', C.navy);
txt(27, 903, 24, 'before', C.black); txt(23, 1113, 24, 'after', C.black);
// Panel 4
box(447, 650, 61, 40, C.purple, P.ir0); box(447, 690, 61, 41, C.gray, P.ti);
txt(521, 678, 25, 'Ir', C.purple); txt(539, 668, 14, '0', C.purple);
txt(516, 718, 25, 'Ti', C.gray); txt(538, 708, 14, '4+', C.gray);
txt(703, 679, 26, 'Pd-Ir/TiO', C.black); txt(812, 684, 15, '2', C.black);
txt(585, 758, 21.5, '61.6', C.gray);
txt(757, 739, 21.5, '60.2', C.purple);
txt(461, 912, 24, 'before', C.black); txt(462, 1151, 24, 'after', C.black);

const chart = echarts.init(document.getElementById('c'), null, {renderer:'canvas', width:832, height:1260});
chart.setOption({
  animation:false,
  backgroundColor:'#fff',
  textStyle:{fontFamily:FONT},
  grid:grids, xAxis:xAxes, yAxis:yAxes, series, graphic
});
</script></body></html>
